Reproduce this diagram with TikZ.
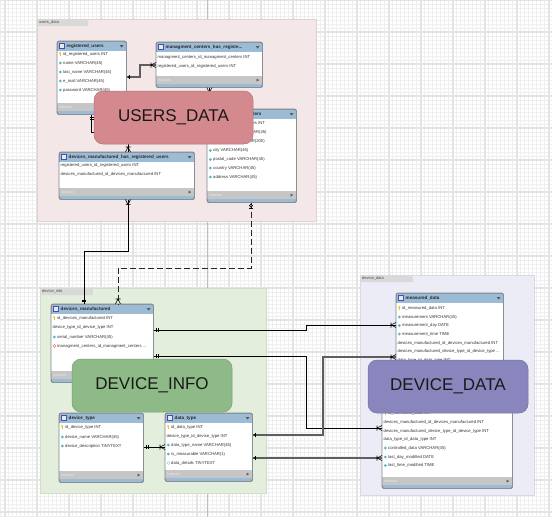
\documentclass[tikz,border=0pt]{standalone}
\usepackage{fontspec}
\setmainfont{Liberation Sans}
\usetikzlibrary{calc}
\definecolor{pinkarea}{HTML}{F4E7E7}
\definecolor{pinkborder}{HTML}{E0D0D0}
\definecolor{greenarea}{HTML}{E4EEDC}
\definecolor{greenborder}{HTML}{D3DECA}
\definecolor{purparea}{HTML}{ECECF6}
\definecolor{purpborder}{HTML}{D8D8E6}
\definecolor{tabgray}{HTML}{D9D9D9}
\definecolor{hdrblue}{HTML}{9CBCD6}
\definecolor{footgray}{HTML}{C6C6C6}
\definecolor{tblborder}{HTML}{7E868E}
\definecolor{keyyellow}{HTML}{E8C020}
\definecolor{coldiamond}{HTML}{5AB4C4}
\definecolor{usersfill}{HTML}{D4898E}
\definecolor{infofill}{HTML}{8DBA87}
\definecolor{datafill}{HTML}{8986BD}
\definecolor{gridminor}{HTML}{EFEFEF}
\definecolor{gridmajor}{HTML}{E3E3E3}
\definecolor{pagebreak}{HTML}{BDBDBD}
\definecolor{relgraycol}{HTML}{5E5E5E}
\tikzset{
  areabox/.style={line width=0.8pt, inner sep=0, anchor=north west},
  tabtext/.style={font=\fontsize{4}{4}\selectfont, text=black!70, anchor=west, inner sep=0},
  tblbox/.style={fill=hdrblue, draw=tblborder, rounded corners=2pt, line width=0.6pt, inner sep=0},
  hdrtext/.style={font=\bfseries\fontsize{4.6}{5}\selectfont, anchor=west, inner sep=0, text=black!85},
  rowtext/.style={font=\fontsize{4.2}{5}\selectfont, anchor=west, inner sep=0, text=black!80},
  idxtext/.style={font=\fontsize{3.6}{4}\selectfont, anchor=west, inner sep=0, text=white!92!black},
  bigbox/.style={rounded corners=9pt, inner sep=0, font=\fontsize{17}{17}\selectfont, text=black!90, line width=0.5pt},
  relsolid/.style={draw=black, line width=0.8pt},
  relgray/.style={draw=relgraycol, line width=1.4pt},
  reldashed/.style={draw=black!85, line width=0.9pt, dash pattern=on 6pt off 3pt},
  pics/oneend/.style={code={\draw[line width=0.6pt] (-2.5,-2.2)--(-2.5,2.2) (-4.2,-2.2)--(-4.2,2.2);}},
  pics/manyend/.style={code={\draw[line width=0.6pt] (-5,0)--(0,-2.5) (-5,0)--(0,2.5) (-5,-2.5)--(-5,2.5);}},
  pics/dotend/.style={code={\fill (-2.5,0) circle (1.3pt); \draw[line width=0.6pt] (-2.5,-2)--(-2.5,2);}},
  pics/zeroend/.style={code={\draw[line width=0.6pt, fill=white] (-3,0) circle (1.5pt); \draw[line width=0.6pt] (-6,-2)--(-6,2);}},
}
\newcommand\dbtbl[6]{% name,left,top,width,height,title
  \node[tblbox, minimum width=#4pt, minimum height=#5pt, anchor=north west] (#1) at (#2,#3) {};
  \fill[white] ($(#1.north west)+(0.3,10)$) rectangle ($(#1.south east)+(-0.3,-11.5)$);
  \fill[footgray] ($(#1.south west)+(0.3,-11.5)$) rectangle ($(#1.south east)+(-0.3,-3.5)$);
  \draw[tblborder, line width=0.6pt, rounded corners=2pt] (#1.north west) rectangle (#1.south east);
  \fill[white!70!hdrblue, draw=blue!40!gray, line width=0.3pt] ($(#1.north west)+(2.5,2.5)$) rectangle ($(#1.north west)+(7.5,7.5)$);
  \node[hdrtext] (#1-title) at ($(#1.north west)+(9.5,5.2)$) {#6};
  \fill[gray!70!black] ($(#1.north east)+(-7,4)$) -- ($(#1.north east)+(-3,4)$) -- ($(#1.north east)+(-5,6.5)$) -- cycle;
  \node[idxtext] (#1-idx) at ($(#1.south west)+(2,-7.5)$) {Indexes};
  \fill[gray!70!black] ($(#1.south east)+(-6,-9)$) -- ($(#1.south east)+(-6,-6)$) -- ($(#1.south east)+(-3.5,-7.5)$) -- cycle;
}
\def\dbshiftk{6}\def\dbshiftc{6}\def\dbshifto{6}\def\dbshiftr{6}\def\dbshiftn{1.5}
\newcommand\dbiconk[1]{\fill[keyyellow] ($(#1)+(3.2,-0.9)$) circle (1.1pt); \fill[keyyellow] ($(#1)+(2.8,-0.5)$) rectangle ($(#1)+(3.6,1.8)$);}
\newcommand\dbiconc[1]{\fill[coldiamond] ($(#1)+(1.8,0)$) -- ($(#1)+(3.3,-1.5)$) -- ($(#1)+(4.8,0)$) -- ($(#1)+(3.3,1.5)$) -- cycle;}
\newcommand\dbicono[1]{\draw[coldiamond!70!white, line width=0.4pt] ($(#1)+(1.8,0)$) -- ($(#1)+(3.3,-1.5)$) -- ($(#1)+(4.8,0)$) -- ($(#1)+(3.3,1.5)$) -- cycle;}
\newcommand\dbiconr[1]{\draw[red!70!white, line width=0.4pt] ($(#1)+(1.8,0)$) -- ($(#1)+(3.3,-1.5)$) -- ($(#1)+(4.8,0)$) -- ($(#1)+(3.3,1.5)$) -- cycle;}
\newcommand\dbiconn[1]{}
\newcommand\dbrow[5]{% table, id, y, icon, text
  \coordinate (#1-#2p) at (#1.west |- 0,#3);
  \csname dbicon#4\endcsname{#1-#2p}%
  \node[rowtext, xshift=\csname dbshift#4\endcsname pt] (#1-#2) at (#1-#2p) {#5};
}
\begin{document}
\begin{tikzpicture}[x=1pt, y=-1pt]
\useasboundingbox (0,0) rectangle (552,517);
\fill[white] (0,0) rectangle (552,517);
\draw[gridminor, line width=0.4pt, step=4pt] (0,0) grid (552,517);
\draw[gridmajor, line width=1.2pt, step=32pt, xshift=5pt] (-5,0) grid (547,517);
\draw[pagebreak, line width=0.8pt] (207,0) -- (207,517);

% areas
\node[areabox, fill=pinkarea, draw=pinkborder, minimum width=279pt, minimum height=202pt] (usersarea) at (37,19) {};
\fill[tabgray] (37.4,19.4) -- (86,19.4) -- (88,21.5) -- (88,26) -- (37.4,26) -- cycle;
\node[tabtext] (userstab) at (39,22.7) {users\_data};
\node[areabox, fill=greenarea, draw=greenborder, minimum width=226pt, minimum height=205pt] (infoarea) at (40,288) {};
\fill[tabgray] (40.4,288.4) -- (91,288.4) -- (93,290.5) -- (93,295) -- (40.4,295) -- cycle;
\node[tabtext] (infotab) at (42,291.7) {device\_info};
\node[areabox, fill=purparea, draw=purpborder, minimum width=174pt, minimum height=220pt] (dataarea) at (360,275) {};
\fill[tabgray] (360.4,275.4) -- (411,275.4) -- (413,277.5) -- (413,282) -- (360.4,282) -- cycle;
\node[tabtext] (datatab) at (362,278.7) {device\_data};

% tables
\dbtbl{ru}{57}{41}{69}{73}{registered\_users}
\dbrow{ru}{1}{54}{k}{id\_registered\_users INT}
\dbrow{ru}{2}{63}{c}{name VARCHAR(45)}
\dbrow{ru}{3}{72}{c}{last\_name VARCHAR(45)}
\dbrow{ru}{4}{81}{c}{e\_mail VARCHAR(45)}
\dbrow{ru}{5}{90}{c}{password VARCHAR(45)}

\dbtbl{mchr}{156}{42}{106}{45}{managment\_centers\_has\_registe...}
\dbrow{mchr}{1}{57}{n}{managment\_centers\_id\_managment\_centers INT}
\dbrow{mchr}{2}{66}{n}{registered\_users\_id\_registered\_users INT}

\dbtbl{mc}{207}{109}{89}{93}{managment\_centers}
\dbrow{mc}{1}{123.5}{k}{id\_managment\_centers INT}
\dbrow{mc}{2}{132}{c}{center\_name VARCHAR(45)}
\dbrow{mc}{3}{141}{c}{description VARCHAR(200)}
\dbrow{mc}{4}{150.5}{c}{city VARCHAR(45)}
\dbrow{mc}{5}{159.5}{c}{postal\_code VARCHAR(45)}
\dbrow{mc}{6}{168}{c}{country VARCHAR(45)}
\dbrow{mc}{7}{177}{c}{address VARCHAR(45)}

\dbtbl{dmhr}{59}{152}{135}{47}{devices\_manufactured\_has\_registered\_users}
\dbrow{dmhr}{1}{165}{n}{registered\_users\_id\_registered\_users INT}
\dbrow{dmhr}{2}{174}{n}{devices\_manufactured\_id\_devices\_manufactured INT}

\dbtbl{dm}{51}{304}{102}{78}{devices\_manufactured}
\dbrow{dm}{1}{318}{k}{id\_devices\_manufactured INT}
\dbrow{dm}{2}{327}{n}{device\_type\_id\_device\_type INT}
\dbrow{dm}{3}{337}{c}{serial\_number VARCHAR(45)}
\dbrow{dm}{4}{346}{r}{managment\_centers\_id\_managment\_centers ...}

\dbtbl{dt}{59}{413}{84}{69}{device\_type}
\dbrow{dt}{1}{427}{k}{id\_device\_type INT}
\dbrow{dt}{2}{437}{c}{device\_name VARCHAR(45)}
\dbrow{dt}{3}{446}{c}{device\_description TINYTEXT}

\dbtbl{dat}{165}{413}{87}{68}{data\_type}
\dbrow{dat}{1}{427}{k}{id\_data\_type INT}
\dbrow{dat}{2}{436}{n}{device\_type\_id\_device\_type INT}
\dbrow{dat}{3}{445}{c}{data\_type\_name VARCHAR(45)}
\dbrow{dat}{4}{454}{c}{is\_measurable VARCHAR(1)}
\dbrow{dat}{5}{463}{o}{data\_details TINYTEXT}

\dbtbl{cd}{382}{400}{130}{88}{controlled\_data}
\dbrow{cd}{1}{413}{k}{id\_controlled\_data INT}
\dbrow{cd}{2}{422}{n}{devices\_manufactured\_id\_devices\_manufactured INT}
\dbrow{cd}{3}{431}{n}{devices\_manufactured\_device\_type\_id\_device\_type INT}
\dbrow{cd}{4}{439.5}{n}{data\_type\_id\_data\_type INT}
\dbrow{cd}{5}{448}{c}{controlled\_data VARCHAR(45)}
\dbrow{cd}{6}{457}{c}{last\_day\_modified DATE}
\dbrow{cd}{7}{465.5}{c}{last\_time\_modified TIME}

\dbtbl{md}{396}{293}{107}{85}{measured\_data}
\dbrow{md}{1}{308}{k}{id\_measured\_data INT}
\dbrow{md}{2}{317}{c}{measurement VARCHAR(45)}
\dbrow{md}{3}{325.5}{c}{measurement\_day DATE}
\dbrow{md}{4}{334}{c}{measurement\_time TIME}
\dbrow{md}{5}{343}{n}{devices\_manufactured\_id\_devices\_manufactured INT}
\dbrow{md}{6}{351.5}{n}{devices\_manufactured\_device\_type\_id\_device\_type ...}
\dbrow{md}{7}{360}{n}{data\_type\_id\_data\_type INT}

% connectors
\draw[relgray] (ru.east |- 0,77) -- (140,77) -- (140,65) -- (mchr.west |- 0,65);
\pic[rotate=180] at (ru.east |- 0,77) {dotend};
\pic at (mchr.west |- 0,65) {manyend};

\draw[relsolid] (mchr.south) -- (mchr.south |- mc.north);
\pic[rotate=90] at (mchr.south) {manyend};
\pic[rotate=-90] at (mchr.south |- mc.north) {oneend};

\draw[relsolid] (ru.south) -- (ru.south |- 0,132) -- (128,132) -- (dmhr.north -| 128,0);
\pic[rotate=90] at (ru.south) {oneend};
\pic[rotate=-90] at (dmhr.north -| 128,0) {manyend};

\draw[relsolid] (dmhr.south -| 128,0) -- (128,251) -- (84,251) -- (dm.north -| 84,0);
\pic[rotate=90] at (dmhr.south -| 128,0) {manyend};
\pic[rotate=-90] at (dm.north -| 84,0) {oneend};

\draw[reldashed] (mc.south -| 251,0) -- (251,268) -- (118,268) -- (dm.north -| 118,0);
\pic[rotate=90] at (mc.south -| 251,0) {zeroend};
\pic[rotate=-90] at (dm.north -| 118,0) {manyend};

\draw[relsolid] (dm.east |- 0,330) -- (306,330) -- (306,325) -- (md.west |- 0,325);
\pic[rotate=180] at (dm.east |- 0,330) {oneend};
\pic at (md.west |- 0,325) {manyend};

\draw[relsolid] (dm.east |- 0,356) -- (306,356) -- (306,428) -- (cd.west |- 0,428);
\pic[rotate=180] at (dm.east |- 0,356) {oneend};
\pic at (cd.west |- 0,428) {manyend};

\draw[relgray] (dat.east |- 0,435) -- (323,435) -- (323,357) -- (md.west |- 0,357);
\pic[rotate=180] at (dat.east |- 0,435) {dotend};
\pic at (md.west |- 0,357) {manyend};

\draw[relgray] (dat.east |- 0,458) -- (cd.west |- 0,458);
\pic[rotate=180] at (dat.east |- 0,458) {dotend};
\pic at (cd.west |- 0,458) {manyend};

\draw[relsolid] (dt.east |- 0,447) -- (dat.west |- 0,447);
\pic[rotate=180] at (dt.east |- 0,447) {oneend};
\pic at (dat.west |- 0,447) {manyend};

% overlays
\node[bigbox, fill=usersfill, draw=usersfill!85!black, minimum width=159pt, minimum height=53pt] (usersdata) at (173.5,117.5) {USERS\_DATA};
\node[bigbox, fill=infofill, draw=infofill!85!black, minimum width=160pt, minimum height=53pt] (deviceinfo) at (152,385.5) {DEVICE\_INFO};
\node[bigbox, fill=datafill, draw=datafill!85!black, minimum width=160pt, minimum height=53pt] (devicedata) at (448,386.5) {DEVICE\_DATA};
\end{tikzpicture}
\end{document}
